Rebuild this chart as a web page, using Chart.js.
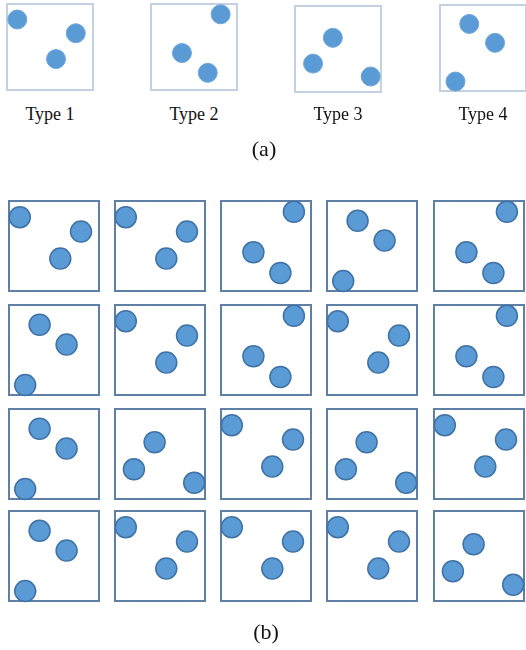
<!DOCTYPE html>
<html>
<head>
<meta charset="utf-8">
<script src="https://cdn.jsdelivr.net/npm/chart.js@4"></script>
<style>
  body { margin: 0; background: #fff; }
  #fig { position: relative; width: 526px; height: 650px; font-family: "Liberation Serif", "Times New Roman", serif; color: #111; }
  #fig canvas { position: absolute; }
  .lbl { position: absolute; transform: translateX(-50%); white-space: nowrap; }
</style>
</head>
<body>
<div id="fig"></div>
<script>
// dot patterns, in percent of the box (x from left, y from top)
const typeNames = ["Type 1", "Type 2", "Type 3", "Type 4"];
const type1 = [[12, 18], [80, 34], [57, 64]];
const type2 = [[81, 12], [36, 57], [66, 80]];
const type3 = [[44, 37], [21, 67], [88, 82]];
const type4 = [[34, 22], [64, 44], [18, 89]];
const patterns = [type1, type2, type3, type4];

// (b) grid: which type sits in each cell, row by row
const gridRow1 = [1, 1, 2, 4, 2];
const gridRow2 = [4, 1, 2, 1, 2];
const gridRow3 = [4, 3, 1, 3, 1];
const gridRow4 = [4, 1, 1, 1, 3];
const gridRows = [gridRow1, gridRow2, gridRow3, gridRow4];

const fig = document.getElementById("fig");
const PAD = 14;

const boxBorder = {
  id: "boxBorder",
  beforeDatasetsDraw(chart, args, opts) {
    const a = chart.chartArea;
    const ctx = chart.ctx;
    ctx.save();
    ctx.strokeStyle = opts.color;
    ctx.lineWidth = opts.width;
    ctx.strokeRect(a.left, a.top, a.right - a.left, a.bottom - a.top);
    ctx.restore();
  }
};

function makeBox(left, top, size, pts, style) {
  const canvas = document.createElement("canvas");
  canvas.width = size + 2 * PAD;
  canvas.height = size + 2 * PAD;
  canvas.style.left = (left - PAD) + "px";
  canvas.style.top = (top - PAD) + "px";
  fig.appendChild(canvas);
  new Chart(canvas.getContext("2d"), {
    type: "scatter",
    data: {
      datasets: [{
        data: pts.map(p => ({ x: p[0], y: p[1] })),
        backgroundColor: "#5b9bd5",
        borderColor: style.dotEdge,
        borderWidth: style.dotEdgeW,
        pointRadius: style.r,
        pointHoverRadius: style.r,
        clip: false
      }]
    },
    options: {
      responsive: false,
      animation: false,
      events: [],
      layout: { padding: PAD },
      scales: {
        x: { display: false, min: 0, max: 100 },
        y: { display: false, min: 0, max: 100, reverse: true }
      },
      plugins: {
        legend: { display: false },
        tooltip: { enabled: false },
        boxBorder: { color: style.box, width: style.boxW }
      }
    },
    plugins: [boxBorder]
  });
}

function label(text, cx, top, size) {
  const d = document.createElement("div");
  d.className = "lbl";
  d.textContent = text;
  d.style.left = cx + "px";
  d.style.top = top + "px";
  d.style.fontSize = size + "px";
  fig.appendChild(d);
}

// (a) the four types
const topStyle = { dotEdge: "#6fa6da", dotEdgeW: 1, r: 9.5, box: "#c3d2e3", boxW: 2 };
const aLeft = [7, 151, 295, 440];
const aTop = [4, 4, 6, 5];
patterns.forEach((p, i) => {
  makeBox(aLeft[i], aTop[i], 86, p, topStyle);
  label(typeNames[i], aLeft[i] + 43, 104, 18);
});
label("(a)", 264, 136, 22);

// (b) the 4 x 5 grid
const botStyle = { dotEdge: "#3f72a6", dotEdgeW: 1.5, r: 10.5, box: "#5f80a6", boxW: 2 };
const bLeft = [9, 115, 221, 327, 434];
const bTop = [201, 305, 409, 511];
gridRows.forEach((row, r) => {
  row.forEach((t, c) => {
    makeBox(bLeft[c], bTop[r], 90, patterns[t - 1], botStyle);
  });
});
label("(b)", 266, 619, 22);
</script>
</body>
</html>
